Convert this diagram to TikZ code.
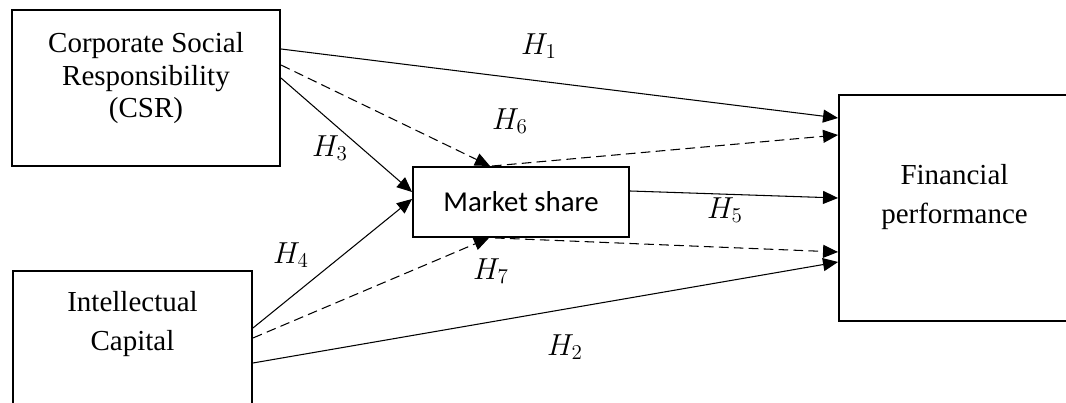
\documentclass[tikz,border=0pt]{standalone}
\usepackage{amsmath,amssymb}
\usepackage{fontspec}
\setmainfont{Liberation Serif}
\newfontfamily\calibri{Carlito}
\usepackage{tikz}
\usetikzlibrary{arrows.meta}

\begin{document}
\begin{tikzpicture}[
    cvar/.style={draw,line width=1.1pt,inner sep=0pt},
    ctext/.style={align=center,font=\fontsize{16.5}{18.5}\selectfont},
    hyp/.style={font=\fontsize{16.5}{19}\selectfont,inner sep=0pt},
    arrow/.style={-{Triangle[length=3mm,width=2.6mm]},line width=0.6pt},
    darrow/.style={arrow,dash pattern=on 5.5pt off 3pt}
  ]
    \useasboundingbox (0,0) rectangle (21.32,8.06);
    \clip (0,0) rectangle (21.32,8.06);
    % variables
    \node[cvar,minimum width=5.36cm,minimum height=3.12cm] (csr) at (2.92,6.30) {};
    \node[ctext] (csrtext) at ([yshift=0.19cm]csr.center) {Corporate Social\\Responsibility\\(CSR)};
    \node[cvar,minimum width=4.78cm,minimum height=3.38cm] (ic) at (2.65,0.95) {};
    \node[ctext,font=\fontsize{16.5}{22}\selectfont] (ictext) at ([yshift=-1.08cm]ic.north) {Intellectual\\Capital};
    \node[cvar,minimum width=4.32cm,minimum height=1.40cm,font=\calibri\fontsize{16.4}{19}\selectfont] (ms) at (10.42,4.02) {Market share};
    \node[cvar,minimum width=4.62cm,minimum height=4.52cm] (fp) at (19.09,3.90) {};
    \node[ctext,font=\fontsize{16.5}{22}\selectfont] (fptext) at ([yshift=0.22cm]fp.center) {Financial\\performance};
    % direct paths
    \draw[arrow] ([yshift=0.78cm]csr.east) -- ([yshift=1.80cm]fp.west);
    \draw[arrow] ([yshift=-0.15cm]ic.east) -- ([yshift=-1.08cm]fp.west);
    \draw[arrow] ([yshift=0.20cm]csr.east) -- ([yshift=0.20cm]ms.west);
    \draw[arrow] ([yshift=0.55cm]ic.east) -- ([yshift=0.06cm]ms.west);
    \draw[arrow] ([yshift=0.22cm]ms.east) -- ([yshift=0.20cm]fp.west);
    % mediated paths
    \draw[darrow] ([yshift=0.46cm]csr.east) -- ([xshift=-0.62cm]ms.north);
    \draw[darrow] ([xshift=-0.58cm]ms.north) -- ([yshift=1.46cm]fp.west);
    \draw[darrow] ([yshift=0.35cm]ic.east) -- ([xshift=-0.64cm]ms.south);
    \draw[darrow] ([xshift=-0.52cm]ms.south) -- ([yshift=-0.88cm]fp.west);
    % hypotheses
    \node[hyp] (h1) at (10.78,7.14) {$H_1$};
    \node[hyp] (h2) at (11.30,1.12) {$H_2$};
    \node[hyp] (h3) at (6.60,5.10) {$H_3$};
    \node[hyp] (h4) at (5.82,2.96) {$H_4$};
    \node[hyp] (h5) at (14.50,3.86) {$H_5$};
    \node[hyp] (h6) at (10.20,5.64) {$H_6$};
    \node[hyp] (h7) at (9.82,2.64) {$H_7$};
  \end{tikzpicture}
\end{document}
